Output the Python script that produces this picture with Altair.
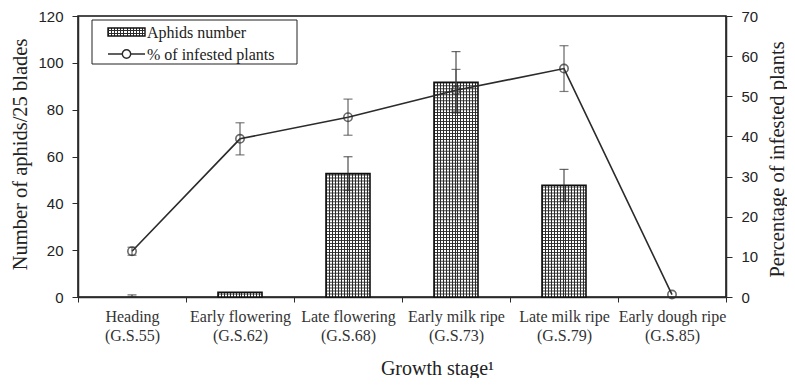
import altair as alt
import pandas as pd
import numpy as np

# ---- data ----
stage_names = ["Heading", "Early flowering", "Late flowering",
               "Early milk ripe", "Late milk ripe", "Early dough ripe"]
stage_codes = ["(G.S.55)", "(G.S.62)", "(G.S.68)", "(G.S.73)", "(G.S.79)", "(G.S.85)"]
aphids = [0.4, 2.0, 52.7, 91.7, 47.7, 0.0]
aphids_err = [0.5, 0.0, 7.2, 13.1, 6.8, 0.0]
infested = [11.4, 39.4, 44.8, 51.5, 56.9, 0.6]
infested_err = [1.0, 4.0, 4.5, 5.2, 5.7, 0.0]
left_ticks = [0, 20, 40, 60, 80, 100, 120]
right_ticks = [0, 10, 20, 30, 40, 50, 60, 70]

labels = [f"{n}|{c}" for n, c in zip(stage_names, stage_codes)]
df = pd.DataFrame({
    "label": labels,
    "aphids": aphids,
    "a_err": aphids_err,
    "inf": infested,
    "i_err": infested_err,
})
df["a_lo"] = (df["aphids"] - df["a_err"]).clip(lower=0)
df["a_hi"] = df["aphids"] + df["a_err"]
df["i_lo"] = (df["inf"] - df["i_err"]).clip(lower=0)
df["i_hi"] = df["inf"] + df["i_err"]
df_aerr = df[df["a_err"] > 0]
df_ierr = df[df["i_err"] > 0]
df_bars = df[df["aphids"] >= 1]

# horizontal hatch rows inside each bar (decoration derived from bar values)
step = 1.27
hatch_rows = []
for lab, v in zip(labels, aphids):
    for y in np.arange(step, v, step):
        hatch_rows.append({"label": lab, "hy": float(y)})
hatch = pd.DataFrame(hatch_rows)

INK = "#2b2b2b"
SERIF = "Liberation Serif"
SANS = "Liberation Sans"

def stripes(n, dark=INK, light="#ffffff"):
    stops = []
    for i in range(n):
        a = i / n
        b = (i + 0.34) / n
        c = (i + 1) / n
        stops += [alt.GradientStop(offset=a, color=dark),
                  alt.GradientStop(offset=b, color=dark),
                  alt.GradientStop(offset=b, color=light),
                  alt.GradientStop(offset=c, color=light)]
    return alt.LinearGradient(gradient="linear", stops=stops, x1=0, x2=1, y1=0, y2=0)

x_enc = alt.X(
    "label:N", sort=labels,
    scale=alt.Scale(paddingInner=0, paddingOuter=0),
    axis=alt.Axis(
        title="Growth stage¹", labelExpr="split(datum.label, '|')",
        labelAngle=0, labelFont=SERIF, labelFontSize=16, labelLineHeight=19,
        labelColor="#333", labelBaseline="top", labelPadding=6,
        tickBand="extent", tickSize=5, tickColor=INK, tickWidth=1,
        domainColor=INK, domainWidth=1.5,
        titleFont=SERIF, titleFontSize=20, titleFontWeight="normal", titleColor="#222",
        titleX=359, titleY=71, titleAlign="center", titleBaseline="middle",
    ),
)

left_axis = alt.Axis(
    title="Number of aphids/25 blades", values=left_ticks, grid=False,
    labelFont=SANS, labelFontSize=15, labelColor="#222", labelPadding=9,
    tickSize=6, tickColor=INK, domainColor=INK, domainWidth=1.5,
    titleFont=SERIF, titleFontSize=20.5, titleFontWeight="normal", titleColor="#222",
    titleAngle=-90, titleX=-58, titleY=138, titleAlign="center", titleBaseline="middle",
)
right_axis = alt.Axis(
    title="Percentage of infested plants", values=right_ticks, grid=False, orient="right",
    labelFont=SANS, labelFontSize=15, labelColor="#222", labelPadding=9,
    tickSize=6, tickColor=INK, domainColor=INK, domainWidth=1.5,
    titleFont=SERIF, titleFontSize=20.5, titleFontWeight="normal", titleColor="#222",
    titleAngle=-90, titleX=51, titleY=143, titleAlign="center", titleBaseline="middle",
)
ls = alt.Scale(domain=[0, 120])
rs = alt.Scale(domain=[0, 70])

BW = 44

bars_fill = alt.Chart(df_bars).mark_bar(size=BW, fill=stripes(15), stroke=None).encode(
    x=x_enc, y=alt.Y("aphids:Q", scale=ls, axis=left_axis))
bars_hatch = alt.Chart(hatch).mark_tick(size=BW, thickness=1, color=INK, opacity=0.9).encode(
    x=x_enc, y=alt.Y("hy:Q", scale=ls, axis=left_axis))
bars_outline = alt.Chart(df_bars).mark_bar(size=BW, fillOpacity=0, stroke="#111", strokeWidth=1.6).encode(
    x=x_enc, y=alt.Y("aphids:Q", scale=ls, axis=left_axis))
a_rule = alt.Chart(df_aerr).mark_rule(color=INK, strokeWidth=1).encode(
    x=x_enc, y=alt.Y("a_lo:Q", scale=ls, axis=left_axis), y2="a_hi:Q")
a_cap_hi = alt.Chart(df_aerr).mark_tick(size=9, thickness=1.2, color=INK).encode(
    x=x_enc, y=alt.Y("a_hi:Q", scale=ls, axis=left_axis))
a_cap_lo = alt.Chart(df_aerr).mark_tick(size=9, thickness=1.2, color=INK).encode(
    x=x_enc, y=alt.Y("a_lo:Q", scale=ls, axis=left_axis))
left_group = alt.layer(bars_fill, bars_hatch, bars_outline, a_rule, a_cap_hi, a_cap_lo)

base = alt.Chart(df)
line = base.mark_line(color=INK, strokeWidth=1.6).encode(
    x=x_enc, y=alt.Y("inf:Q", scale=rs, axis=right_axis))
i_rule = alt.Chart(df_ierr).mark_rule(color="#444", strokeWidth=1).encode(
    x=x_enc, y=alt.Y("i_lo:Q", scale=rs, axis=right_axis), y2="i_hi:Q")
i_cap_hi = alt.Chart(df_ierr).mark_tick(size=9, thickness=1.2, color="#444").encode(
    x=x_enc, y=alt.Y("i_hi:Q", scale=rs, axis=right_axis))
i_cap_lo = alt.Chart(df_ierr).mark_tick(size=9, thickness=1.2, color="#444").encode(
    x=x_enc, y=alt.Y("i_lo:Q", scale=rs, axis=right_axis))
pts = base.mark_point(shape="circle", filled=False, size=70, color=INK, strokeWidth=1.6).encode(
    x=x_enc, y=alt.Y("inf:Q", scale=rs, axis=right_axis))
right_group = alt.layer(line, i_rule, i_cap_hi, i_cap_lo, pts)

# ---- legend box ----
one = pd.DataFrame({"k": [0]})
leg_box = alt.Chart(one).mark_rect(fill="white", stroke="#222", strokeWidth=1).encode(
    x=alt.value(14), x2=alt.value(219), y=alt.value(4), y2=alt.value(48))
leg_sw = alt.Chart(one).mark_rect(fill=stripes(12), stroke="#111", strokeWidth=1.4).encode(
    x=alt.value(30), x2=alt.value(67), y=alt.value(12), y2=alt.value(20))
leg_sw_h1 = alt.Chart(one).mark_rule(color=INK, strokeWidth=1).encode(
    x=alt.value(30), x2=alt.value(67), y=alt.value(14.5))
leg_sw_h2 = alt.Chart(one).mark_rule(color=INK, strokeWidth=1).encode(
    x=alt.value(30), x2=alt.value(67), y=alt.value(17.5))
leg_t1 = alt.Chart(one).mark_text(align="left", baseline="middle", font=SERIF, fontSize=16,
                                  color="#222").encode(
    x=alt.value(69), y=alt.value(16.5), text=alt.value("Aphids number"))
leg_line = alt.Chart(one).mark_rule(color=INK, strokeWidth=1.6).encode(
    x=alt.value(30), x2=alt.value(67), y=alt.value(38))
leg_pt = alt.Chart(one).mark_point(shape="circle", filled=False, size=70, color=INK,
                                   strokeWidth=1.4, fill="white", fillOpacity=1).encode(
    x=alt.value(48.5), y=alt.value(38))
leg_t2 = alt.Chart(one).mark_text(align="left", baseline="middle", font=SERIF, fontSize=16,
                                  color="#222").encode(
    x=alt.value(69), y=alt.value(38.5), text=alt.value("% of infested plants"))

chart = alt.layer(
    left_group, right_group,
    leg_box, leg_sw, leg_sw_h1, leg_sw_h2, leg_t1, leg_line, leg_pt, leg_t2,
).resolve_scale(y="independent").properties(
    width=648, height=281,
    autosize=alt.AutoSizeParams(type="none"),
    padding={"left": 70, "top": 8, "right": 61, "bottom": 81},
    background="white",
).configure_view(stroke="#111", strokeWidth=1.5)

chart.save("out.html", embed_options={"renderer": "svg", "actions": False})
